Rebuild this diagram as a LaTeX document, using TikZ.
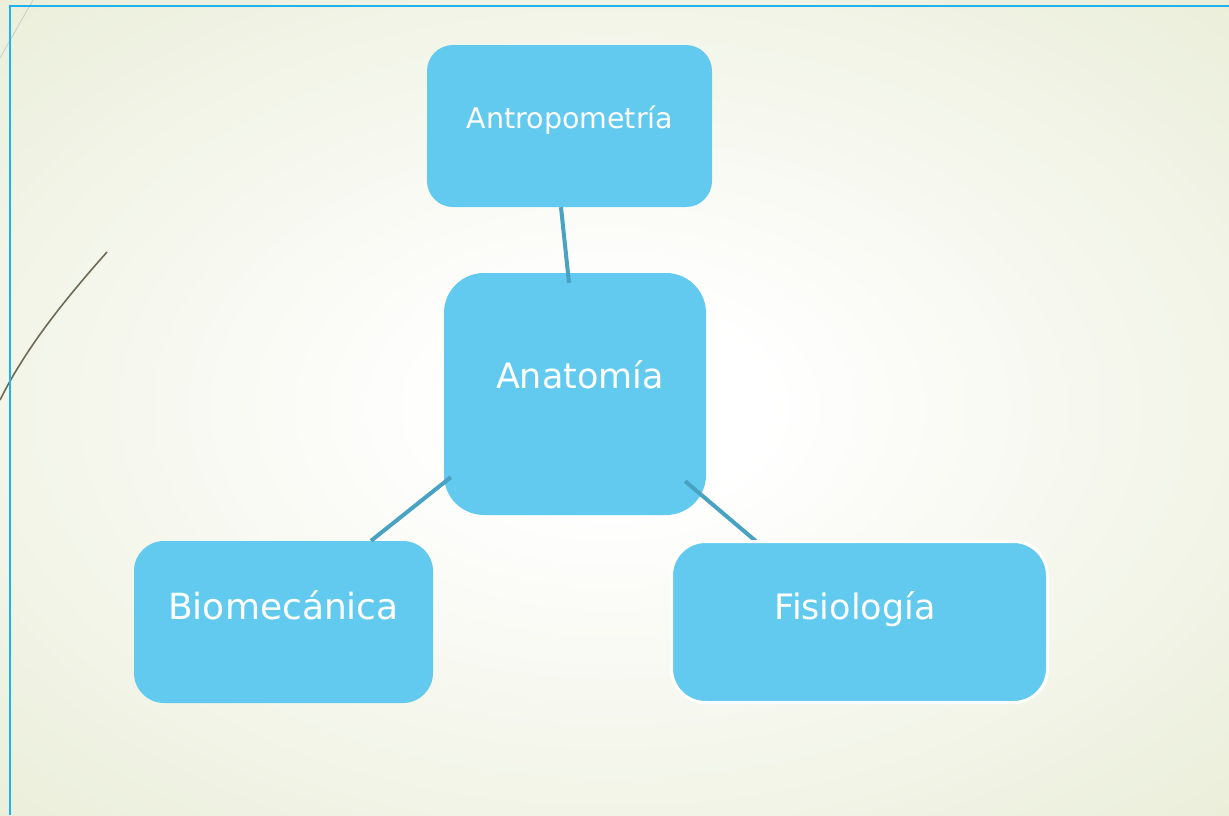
\documentclass[tikz,border=0pt]{standalone}
\usepackage{fontspec}
\setmainfont{DejaVu Sans}
\usetikzlibrary{calc}
\definecolor{bgedge}{HTML}{E6EBD2}
\definecolor{boxfill}{HTML}{62CAEE}
\definecolor{linkcol}{HTML}{4AA2C2}
\definecolor{framecol}{HTML}{1DB4EE}
\definecolor{olive}{HTML}{6F6A55}
\pgfdeclareradialshading{bgshade}{\pgfpoint{0bp}{0bp}}{color(0bp)=(white); color(6bp)=(white); color(40bp)=(bgedge); color(80bp)=(bgedge)}
\tikzset{
  box/.style={fill=boxfill, draw=none, inner sep=0pt},
  link/.style={draw=linkcol, line width=4pt},
  lbl/.style={text=white, anchor=base, inner sep=0pt},
}
\begin{document}
\begin{tikzpicture}[x=1pt,y=-1pt]
\useasboundingbox (0,0) rectangle (1229,815);
\shade[shading=bgshade] (-40,-10) rectangle (1260,815+10);
% decorative lines
\draw[gray!40, line width=0.8pt] (0,58) -- (33,0);
\draw[olive, line width=1.6pt] (107,252) .. controls (60,305) and (25,350) .. (0,400);
% frame
\draw[framecol, line width=1.8pt] (1229,6) -- (10,6) -- (10,815);
% boxes
\node[box, minimum width=285pt, minimum height=162pt, rounded corners=26pt] (antro) at (569.5,126) {};
\node[box, minimum width=262pt, minimum height=242pt, rounded corners=40pt] (anat) at (575,394) {};
\node[box, minimum width=299pt, minimum height=162pt, rounded corners=30pt] (bio) at (283.5,622) {};
% connectors
\draw[link] ($(antro.south)+(-8.5,0)$) -- ($(anat.north)+(-6,10)$);
\draw[link] ($(anat.south west)+(7,-38)$) -- ($(bio.north)+(87.5,0)$);
\draw[link] ($(anat.south east)+(-21,-34)$) -- ($(anat.south east)+(58,33)$);
\node[box, draw=white, line width=3pt, minimum width=376pt, minimum height=161pt, rounded corners=34pt, outer sep=0pt] (fis) at (859.5,622) {};
% labels
\node[lbl, font=\fontsize{28.5}{32}\selectfont] at ($(antro.center)+(0.5,2)$) {Antropometría};
\node[lbl, font=\fontsize{35}{38}\selectfont] at ($(anat.center)+(5,-6)$) {Anatomía};
\node[lbl, font=\fontsize{36}{40}\selectfont] at ($(bio.center)+(0,-3)$) {Biomecánica};
\node[lbl, font=\fontsize{35}{38}\selectfont] at ($(fis.center)+(-4.5,-3)$) {Fisiología};
\end{tikzpicture}
\end{document}
